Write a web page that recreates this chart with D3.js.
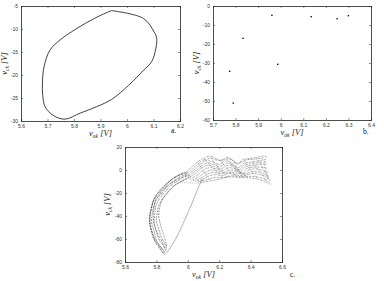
<!DOCTYPE html>
<html>
<head>
<meta charset="utf-8">
<script src="https://cdn.jsdelivr.net/npm/d3@7"></script>
<style>
  body { margin: 0; background: #fff; }
  .tick text { font-family: "Liberation Sans", sans-serif; font-size: 5px; fill: #333; }
  .axis-title { font-family: "Liberation Serif", serif; font-style: italic; font-size: 8.5px; fill: #222; }
  .panel-tag { font-family: "Liberation Serif", serif; font-size: 7.5px; fill: #111; }
</style>
</head>
<body>
<svg id="chart" width="384" height="281"></svg>
<script>
// panel a: closed orbit
const loopA = [
  [5.942, -6.0], [6.062, -7.7], [6.102, -10.6], [6.112, -12.0], [6.109, -14.2],
  [6.093, -17.1], [6.062, -19.0], [6.005, -22.3], [5.942, -25.3], [5.885, -26.9],
  [5.823, -28.3], [5.766, -29.6], [5.722, -28.8], [5.691, -26.9], [5.682, -24.4],
  [5.681, -21.5], [5.687, -18.2], [5.709, -14.6], [5.747, -12.4], [5.791, -10.6],
  [5.848, -8.6], [5.898, -7.1], [5.942, -6.0]
];

// panel b: isolated points
const pointsB = [
  [5.833, -17.0], [5.961, -4.9], [5.987, -30.7], [5.774, -34.4],
  [5.790, -51.1], [6.135, -5.6], [6.250, -6.7], [6.300, -5.1]
];

// panel c: trajectory strands
const bandLeft = [
  [[5.855, -74], [5.82, -68], [5.79, -62], [5.775, -55], [5.757, -46], [5.762, -37], [5.778, -28], [5.80, -22], [5.832, -16.5], [5.875, -10.5], [5.917, -6.7], [5.96, -3.8], [6.00, -1.7]],
  [[5.855, -72], [5.83, -67], [5.80, -61], [5.787, -54], [5.77, -46], [5.775, -37], [5.79, -29], [5.812, -23], [5.845, -17], [5.885, -12], [5.925, -8], [5.965, -5], [6.00, -3]],
  [[5.86, -70], [5.84, -65], [5.815, -60], [5.80, -53], [5.785, -46], [5.79, -38], [5.80, -30], [5.825, -24], [5.858, -18.5], [5.895, -13], [5.935, -9.5], [5.97, -6.5], [6.01, -4.5]],
  [[5.865, -68], [5.85, -63], [5.83, -58], [5.815, -51], [5.80, -45], [5.805, -38], [5.815, -31], [5.84, -25], [5.87, -20], [5.905, -14.5], [5.945, -11], [5.98, -8], [6.02, -6]],
  [[5.85, -71], [5.81, -64], [5.78, -57], [5.765, -50], [5.76, -41], [5.77, -33], [5.785, -25], [5.815, -19], [5.85, -14], [5.89, -9], [5.93, -5], [5.97, -2.5]],
  [[5.845, -73], [5.815, -66], [5.785, -60], [5.765, -52], [5.755, -43], [5.765, -34], [5.785, -26], [5.82, -20], [5.86, -13.5], [5.90, -8], [5.945, -4.5], [5.985, -2]],
  [[5.86, -69], [5.835, -62], [5.81, -56], [5.79, -49], [5.78, -41], [5.785, -33], [5.795, -26], [5.83, -21], [5.865, -15], [5.91, -10], [5.955, -7], [5.995, -4]],
  [[5.865, -66], [5.855, -60], [5.84, -54], [5.825, -47], [5.815, -40], [5.82, -34], [5.83, -28], [5.85, -23], [5.88, -18], [5.92, -13], [5.96, -10], [6.00, -7.5]]
];
const bandInner = [
  [[5.855, -74], [5.90, -65], [5.94, -55], [5.98, -43], [6.015, -32.5], [6.045, -22], [6.07, -13.5], [6.09, -8]],
  [[5.87, -72], [5.91, -63], [5.95, -53], [5.99, -41], [6.025, -30], [6.055, -20], [6.08, -12], [6.10, -7]],
  [[5.86, -73], [5.905, -64], [5.945, -54], [5.985, -42], [6.02, -31], [6.05, -21], [6.075, -13], [6.095, -7.5]],
  [[5.90, -10], [5.95, -10.5], [6.00, -11], [6.05, -11.5], [6.08, -11]]
];
const bandUpper = [
  [[5.98, -3], [6.02, 2], [6.06, 7], [6.10, 10], [6.14, 12], [6.18, 10], [6.21, 8], [6.25, 11], [6.29, 8], [6.32, 5], [6.35, 9], [6.40, 10], [6.44, 11], [6.47, 12], [6.50, 12]],
  [[5.985, -4], [6.03, 1], [6.07, 6], [6.11, 9], [6.15, 10], [6.19, 8.5], [6.23, 9], [6.27, 9.5], [6.31, 6], [6.34, 7], [6.38, 9], [6.43, 9.5], [6.48, 10.5]],
  [[5.99, -5], [6.04, 0], [6.08, 5], [6.12, 8], [6.16, 7], [6.20, 5], [6.24, 8], [6.28, 6], [6.32, 2], [6.36, 6], [6.41, 7], [6.45, 8], [6.49, 9]],
  [[5.995, -6], [6.045, -1.5], [6.085, 3.5], [6.125, 6], [6.165, 5], [6.205, 3], [6.245, 6], [6.285, 4.5], [6.325, 0.5], [6.365, 4.5], [6.415, 5.5], [6.455, 6.5], [6.50, 7]],
  [[6.00, -7], [6.05, -3], [6.09, 2], [6.13, 4], [6.17, 3], [6.21, 1], [6.25, 4], [6.29, 3], [6.33, -1], [6.37, 3], [6.42, 4], [6.46, 5], [6.50, 5]],
  [[6.01, -8], [6.06, -4.5], [6.10, 0], [6.14, 2], [6.18, 1], [6.22, -0.5], [6.26, 2], [6.30, 1], [6.34, -2], [6.38, 1.5], [6.425, 2.5], [6.465, 2.5], [6.505, 1.5]],
  [[6.02, -9], [6.07, -6], [6.11, -2], [6.15, 0], [6.19, -1], [6.23, -2], [6.27, 0], [6.31, -1], [6.35, -3], [6.39, 0], [6.43, 1], [6.47, 0], [6.51, -2]],
  [[6.035, -9.5], [6.085, -7], [6.125, -3.5], [6.165, -2], [6.205, -3], [6.245, -2.5], [6.285, -2], [6.325, -3], [6.365, -3.5], [6.405, -1.5], [6.445, -1.5], [6.485, -3], [6.52, -6]],
  [[6.05, -10], [6.10, -8], [6.14, -5], [6.18, -4], [6.22, -5], [6.26, -3], [6.30, -4], [6.34, -5], [6.38, -4], [6.42, -3], [6.46, -4], [6.50, -6], [6.53, -10]],
  [[6.065, -10.5], [6.12, -8.5], [6.17, -6.5], [6.23, -6.5], [6.28, -5], [6.33, -5.8], [6.39, -5.5], [6.44, -6], [6.49, -8], [6.525, -11.5]],
  [[6.08, -11], [6.14, -9.5], [6.20, -8], [6.26, -6], [6.33, -6.5], [6.40, -7], [6.46, -8.5], [6.50, -10.5], [6.53, -13]]
];
const bandCross = [
  [[6.06, 7], [6.10, -1], [6.14, -9]],
  [[6.10, 10], [6.16, 2], [6.22, -6]],
  [[6.14, 12], [6.19, 3], [6.25, -6]],
  [[6.21, 8], [6.26, 0], [6.31, -5]],
  [[6.25, 11], [6.30, 1], [6.35, -6]],
  [[6.29, 8], [6.33, -1], [6.38, -6]],
  [[6.35, 9], [6.40, 0], [6.44, -7]],
  [[6.40, 10], [6.45, 0], [6.50, -9]],
  [[6.44, 11], [6.48, 1], [6.52, -9]],
  [[6.50, 12], [6.49, 5], [6.50, -2], [6.51, -8]]
];

const ticksAx = [5.6, 5.7, 5.8, 5.9, 6.0, 6.1, 6.2];
const ticksAy = [-30, -25, -20, -15, -10, -5];
const ticksBx = [5.7, 5.8, 5.9, 6.0, 6.1, 6.2, 6.3, 6.4];
const ticksBy = [-60, -50, -40, -30, -20, -10, 0];
const ticksCx = [5.6, 5.8, 6.0, 6.2, 6.4, 6.6];
const ticksCy = [-80, -60, -40, -20, 0, 20];

const svg = d3.select('#chart');
const fmt = d => String(+d.toFixed(1));

function drawPanel(cfg) {
    const g = svg.append('g').attr('transform', `translate(${cfg.left},${cfg.top})`);
    const x = d3.scaleLinear().domain(cfg.xDomain).range([0, cfg.width]);
    const y = d3.scaleLinear().domain(cfg.yDomain).range([cfg.height, 0]);

    // box with inward ticks on all sides
    g.append('g').attr('transform', `translate(0,${cfg.height})`)
        .call(d3.axisBottom(x).tickValues(cfg.xTicks).tickFormat(fmt).tickSize(-2).tickPadding(3));
    g.append('g')
        .call(d3.axisTop(x).tickValues(cfg.xTicks).tickFormat('').tickSize(-2));
    g.append('g')
        .call(d3.axisLeft(y).tickValues(cfg.yTicks).tickFormat(fmt).tickSize(-2).tickPadding(3));
    g.append('g').attr('transform', `translate(${cfg.width},0)`)
        .call(d3.axisRight(y).tickValues(cfg.yTicks).tickFormat('').tickSize(-2));
    g.selectAll('.domain').attr('stroke', '#222').attr('stroke-width', 0.8);
    g.selectAll('.tick line').attr('stroke', '#444').attr('stroke-width', 0.6);

    g.append('text').attr('class', 'axis-title')
        .attr('x', cfg.width / 2).attr('y', cfg.height + 15)
        .attr('text-anchor', 'middle')
        .html(cfg.xLabel);
    g.append('text').attr('class', 'axis-title')
        .attr('transform', `translate(${cfg.yLabelX},${cfg.height / 2}) rotate(-90)`)
        .attr('text-anchor', 'middle')
        .html(cfg.yLabel);
    g.append('text').attr('class', 'panel-tag')
        .attr('x', cfg.tagX).attr('y', cfg.tagY)
        .text(cfg.tag);

    return { g, x, y };
}

const xLab = 'v<tspan font-size="5.5" dy="1.5">ok</tspan><tspan dy="-1.5"> [V]</tspan>';
const yLab = 'v<tspan font-size="5.5" dy="1.5">ck</tspan><tspan dy="-1.5"> [V]</tspan>';

// a.
const pa = drawPanel({
    left: 21, top: 6, width: 159, height: 115,
    xDomain: [5.6, 6.2], yDomain: [-30, -5], xTicks: ticksAx, yTicks: ticksAy,
    xLabel: xLab, yLabel: yLab, yLabelX: -14, tag: 'a.', tagX: 150, tagY: 127
});
pa.g.append('path')
    .datum(loopA)
    .attr('fill', 'none')
    .attr('stroke', '#111')
    .attr('stroke-width', 0.8)
    .attr('d', d3.line().x(d => pa.x(d[0])).y(d => pa.y(d[1])).curve(d3.curveCatmullRomClosed.alpha(0.5)));

// b.
const pb = drawPanel({
    left: 213, top: 6, width: 158, height: 114,
    xDomain: [5.7, 6.4], yDomain: [-60, 0], xTicks: ticksBx, yTicks: ticksBy,
    xLabel: xLab, yLabel: yLab, yLabelX: -14, tag: 'b.', tagX: 150, tagY: 128
});
pb.g.selectAll('rect.pt')
    .data(pointsB)
    .join('rect')
    .attr('class', 'pt')
    .attr('x', d => pb.x(d[0]) - 0.7)
    .attr('y', d => pb.y(d[1]) - 0.7)
    .attr('width', 1.4)
    .attr('height', 1.4)
    .attr('fill', '#111');

// c.
const pc = drawPanel({
    left: 125, top: 147, width: 157, height: 115,
    xDomain: [5.6, 6.6], yDomain: [-80, 20], xTicks: ticksCx, yTicks: ticksCy,
    xLabel: xLab, yLabel: yLab, yLabelX: -15, tag: 'c.', tagX: 165, tagY: 130
});
const strandLine = d3.line().x(d => pc.x(d[0])).y(d => pc.y(d[1])).curve(d3.curveCatmullRom);
function drawStrands(data, width, dash, color) {
    pc.g.append('g').selectAll('path')
        .data(data)
        .join('path')
        .attr('fill', 'none')
        .attr('stroke', color)
        .attr('stroke-width', width)
        .attr('stroke-dasharray', dash)
        .attr('d', strandLine);
}
drawStrands(bandLeft, 0.8, '0.7 0.8 0.5 1.2', '#222');
drawStrands(bandInner, 0.55, '0.6 1.4', '#555');
drawStrands(bandUpper, 0.7, '0.6 1.0 0.4 0.8', '#222');
drawStrands(bandCross, 0.6, '0.5 1.1', '#333');
</script>
</body>
</html>
